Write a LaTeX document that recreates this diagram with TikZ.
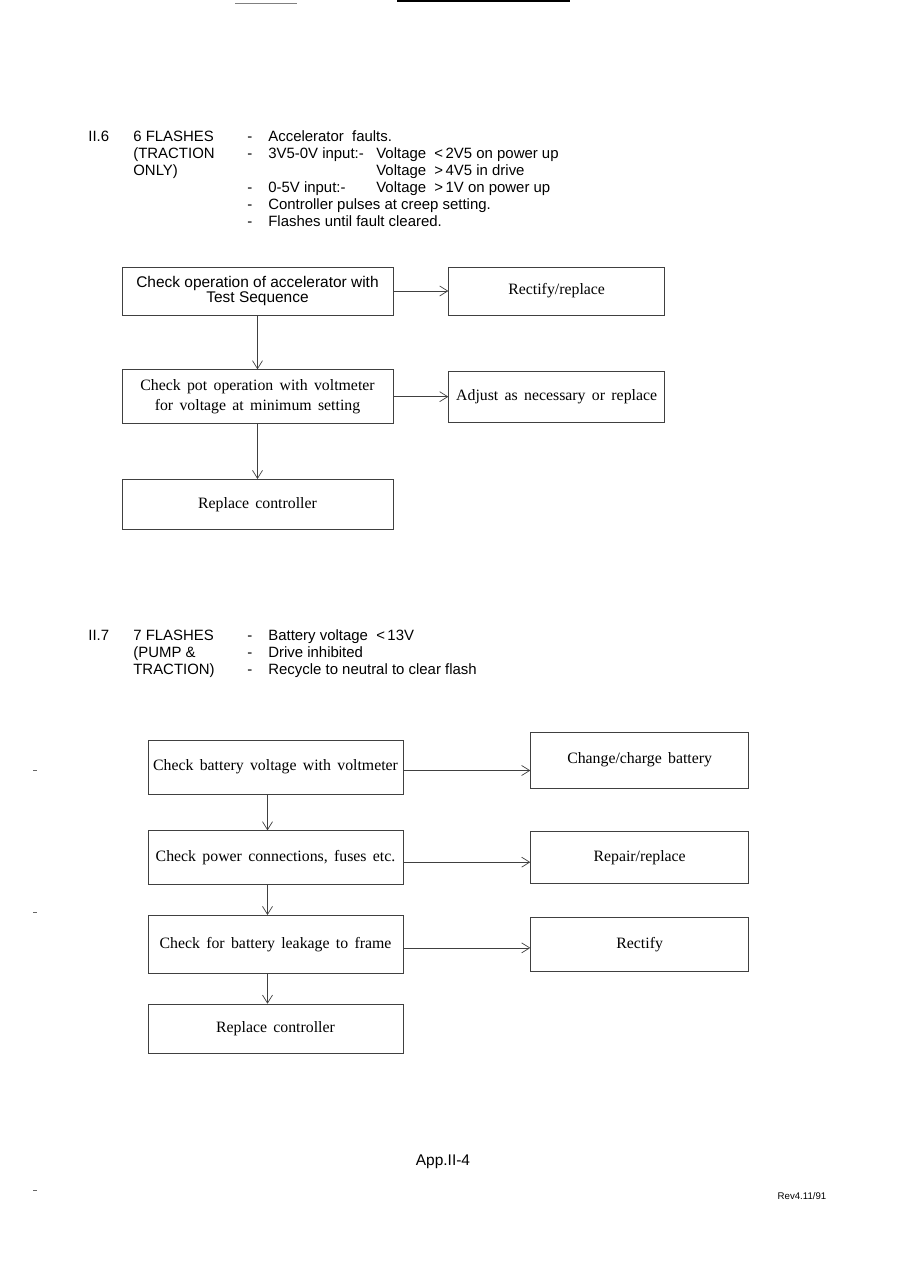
\documentclass[tikz,border=0pt]{standalone}
\usepackage{fontspec}
\setmainfont{Liberation Serif}[WordSpace=1.6]
\setsansfont{Liberation Sans}
\usetikzlibrary{arrows.meta, positioning}

\begin{document}
\begin{tikzpicture}[
  x=0.02cm, y=-0.02cm,
  node distance = 1.1cm and 1.1cm,
  every node/.style = {inner sep=0pt},
  listtext/.style = {anchor=base west, font=\sffamily\fontsize{8.5}{10}\selectfont},
  stepbox/.style  = {rectangle, draw=black!75, line width=0.4pt, align=center,
                     font=\fontsize{9}{11}\selectfont, inner sep=1pt},
  leftbox/.style  = {stepbox, minimum width=5.42cm, minimum height=0.96cm},
  rightbox/.style = {stepbox, minimum width=4.32cm, minimum height=0.96cm},
  lowbox/.style   = {stepbox, minimum width=5.1cm, minimum height=1.08cm},
  fixbox/.style   = {stepbox, minimum width=4.36cm, minimum height=1.08cm},
  arrow/.style    = {-{Straight Barb[length=1.6mm, width=2mm]}, line width=0.4pt,
                     draw=black!75}
]
\useasboundingbox (0,0) rectangle (919,1266);

% --- page marks ---
\draw[black!50, line width=0.5pt] (235,3) -- (297,3);
\draw[line width=0.9pt] (397,1) -- (570,1);
\draw[black!60, line width=0.5pt] (33,770) -- (37,770);
\draw[black!60, line width=0.5pt] (33,912) -- (37,912);
\draw[black!60, line width=0.5pt] (33,1190) -- (37,1190);

% --- II.6 text ---
\node[listtext] (sec6)  at (88,142)  {II.6};
\node[listtext] (fl6a)  at (133,142) {6 FLASHES};
\node[listtext] (fl6b)  at (133,159) {(TRACTION};
\node[listtext] (fl6c)  at (133,176) {ONLY)};
\node[listtext] (d6a)   at (247,142) {-};
\node[listtext] (d6b)   at (247,159) {-};
\node[listtext] (d6d)   at (247,193) {-};
\node[listtext] (d6e)   at (247,210) {-};
\node[listtext] (d6f)   at (247,227) {-};
\node[listtext] (f6a)   at (268,142) {Accelerator\ \ faults.};
\node[listtext] (f6b)   at (268,159) {3V5-0V input:-};
\node[listtext] (v6b)   at (376,159) {Voltage\ \ <\,2V5 on power up};
\node[listtext] (v6c)   at (376,176) {Voltage\ \ >\,4V5 in drive};
\node[listtext] (f6d)   at (268,193) {0-5V input:-};
\node[listtext] (v6d)   at (376,193) {Voltage\ \ >\,1V on power up};
\node[listtext] (f6e)   at (268,210) {Controller pulses at creep setting.};
\node[listtext] (f6f)   at (268,227) {Flashes until fault cleared.};

% --- II.6 chart ---
\node[leftbox, font=\sffamily\fontsize{8.8}{8.6}\selectfont] (acc) at (257.5,291)
     {Check operation of accelerator with\\Test Sequence};
\node[rightbox, right=of acc]                    (rect6) {Rectify/replace};
\node[leftbox, below=1.08cm of acc, minimum height=1.08cm] (pot)
     {Check pot operation with voltmeter\\for voltage at minimum setting};
\node[rightbox, right=of pot, minimum height=1.02cm] (adj)
     {Adjust as necessary or replace};
\node[leftbox, below=of pot, minimum height=1cm] (ctl6) {Replace controller};

\draw[arrow] (acc) -- (rect6);
\draw[arrow] (acc) -- (pot);
\draw[arrow] (pot) -- (adj);
\draw[arrow] (pot) -- (ctl6);

% --- II.7 text ---
\node[listtext] (sec7)  at (88,640)  {II.7};
\node[listtext] (fl7a)  at (133,640) {7 FLASHES};
\node[listtext] (fl7b)  at (133,657) {(PUMP \&};
\node[listtext] (fl7c)  at (133,674) {TRACTION)};
\node[listtext] (d7a)   at (247,640) {-};
\node[listtext] (d7b)   at (247,657) {-};
\node[listtext] (d7c)   at (247,674) {-};
\node[listtext] (f7a)   at (268,640) {Battery voltage\ \ <\,13V};
\node[listtext] (f7b)   at (268,657) {Drive inhibited};
\node[listtext] (f7c)   at (268,674) {Recycle to neutral to clear flash};

% --- II.7 chart ---
\node[lowbox] (bat) at (275.5,767) {Check battery voltage with voltmeter};
\node[fixbox, right=2.54cm of bat, yshift=0.14cm, minimum height=1.12cm] (chg)
     {Change/charge battery};
\node[lowbox, below=0.72cm of bat]                (pwr)  {Check power connections, fuses etc.};
\node[fixbox, right=2.54cm of pwr, minimum height=1.04cm] (rep) {Repair/replace};
\node[lowbox, below=0.6cm of pwr, minimum height=1.16cm] (leak)
     {Check for battery leakage to frame};
\node[fixbox, right=2.54cm of leak]               (rect7) {Rectify};
\node[lowbox, below=0.6cm of leak, minimum height=0.98cm] (ctl7) {Replace controller};

\draw[arrow] ([yshift=-0.07cm]bat.east)  -- ([yshift=-0.07cm]bat.east -| chg.west);
\draw[arrow] ([yshift=-0.09cm]pwr.east)  -- ([yshift=-0.09cm]pwr.east -| rep.west);
\draw[arrow] ([yshift=-0.07cm]leak.east) -- ([yshift=-0.07cm]leak.east -| rect7.west);
\draw[arrow] ([xshift=-0.16cm]bat.south)  -- ([xshift=-0.16cm]pwr.north);
\draw[arrow] ([xshift=-0.16cm]pwr.south)  -- ([xshift=-0.16cm]leak.north);
\draw[arrow] ([xshift=-0.16cm]leak.south) -- ([xshift=-0.16cm]ctl7.north);

% --- footer ---
\node[font=\sffamily\fontsize{8.8}{9}\selectfont] (page) at (443,1162) {App.II-4};
\node[font=\sffamily\fontsize{5.5}{7}\selectfont] (rev)  at (802,1196) {Rev4.11/91};

\end{tikzpicture}
\end{document}
